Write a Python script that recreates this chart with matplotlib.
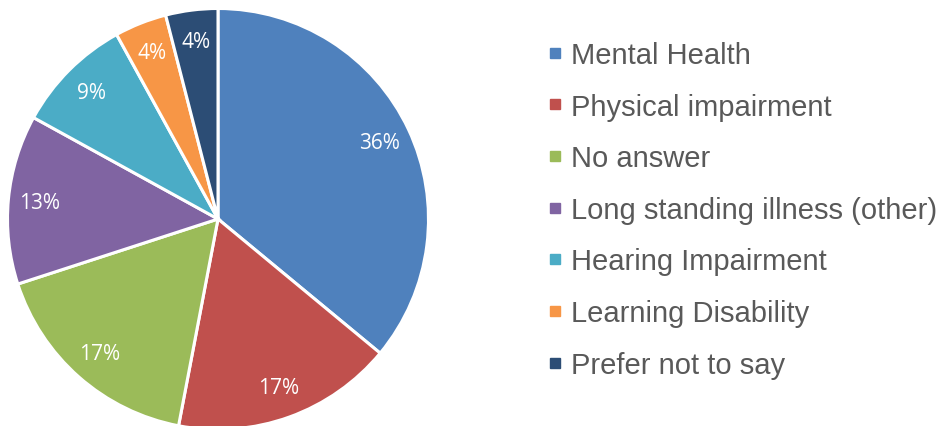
import matplotlib
matplotlib.use("Agg")
import matplotlib.pyplot as plt
from matplotlib.lines import Line2D

labels = ["Mental Health", "Physical impairment", "No answer",
          "Long standing illness (other)", "Hearing Impairment",
          "Learning Disability", "Prefer not to say"]
values = [36, 17, 17, 13, 9, 4, 4]
colors = ["#4F81BD", "#C0504D", "#9BBB59", "#8064A2", "#4BACC6",
          "#F79646", "#2C4D75"]

W, H = 941, 427
fig = plt.figure(figsize=(W / 100, H / 100), dpi=100)

# pie centred at (218, 220) px from top-left, radius ~210 px
cx, cy, r = 218, 220, 210.5
ax = fig.add_axes([(cx - r) / W, (H - cy - r) / H, 2 * r / W, 2 * r / H])

wedges, texts, autotexts = ax.pie(
    values, colors=colors, startangle=90, counterclock=False,
    autopct="%d%%", pctdistance=0.85, radius=1.0,
    wedgeprops=dict(edgecolor="white", linewidth=2.2),
    textprops=dict(color="white", fontsize=15, family="Open Sans"))
ax.set_xlim(-1, 1)
ax.set_ylim(-1, 1)
ax.set_aspect("equal")
ax.axis("off")

handles = [Line2D([0], [0], marker="s", linestyle="none", markersize=7.5,
                  markerfacecolor=c, markeredgecolor=c) for c in colors]
leg = fig.legend(handles, labels, loc="upper left",
                 bbox_to_anchor=(548 / W, 1 - 42 / H), frameon=False,
                 prop=dict(family="Liberation Sans", size=21),
                 labelspacing=0.81, handlelength=0.45, handletextpad=0.35,
                 borderaxespad=0, borderpad=0)
for t in leg.get_texts():
    t.set_color("#595959")

fig.savefig("out.png", dpi=100)
